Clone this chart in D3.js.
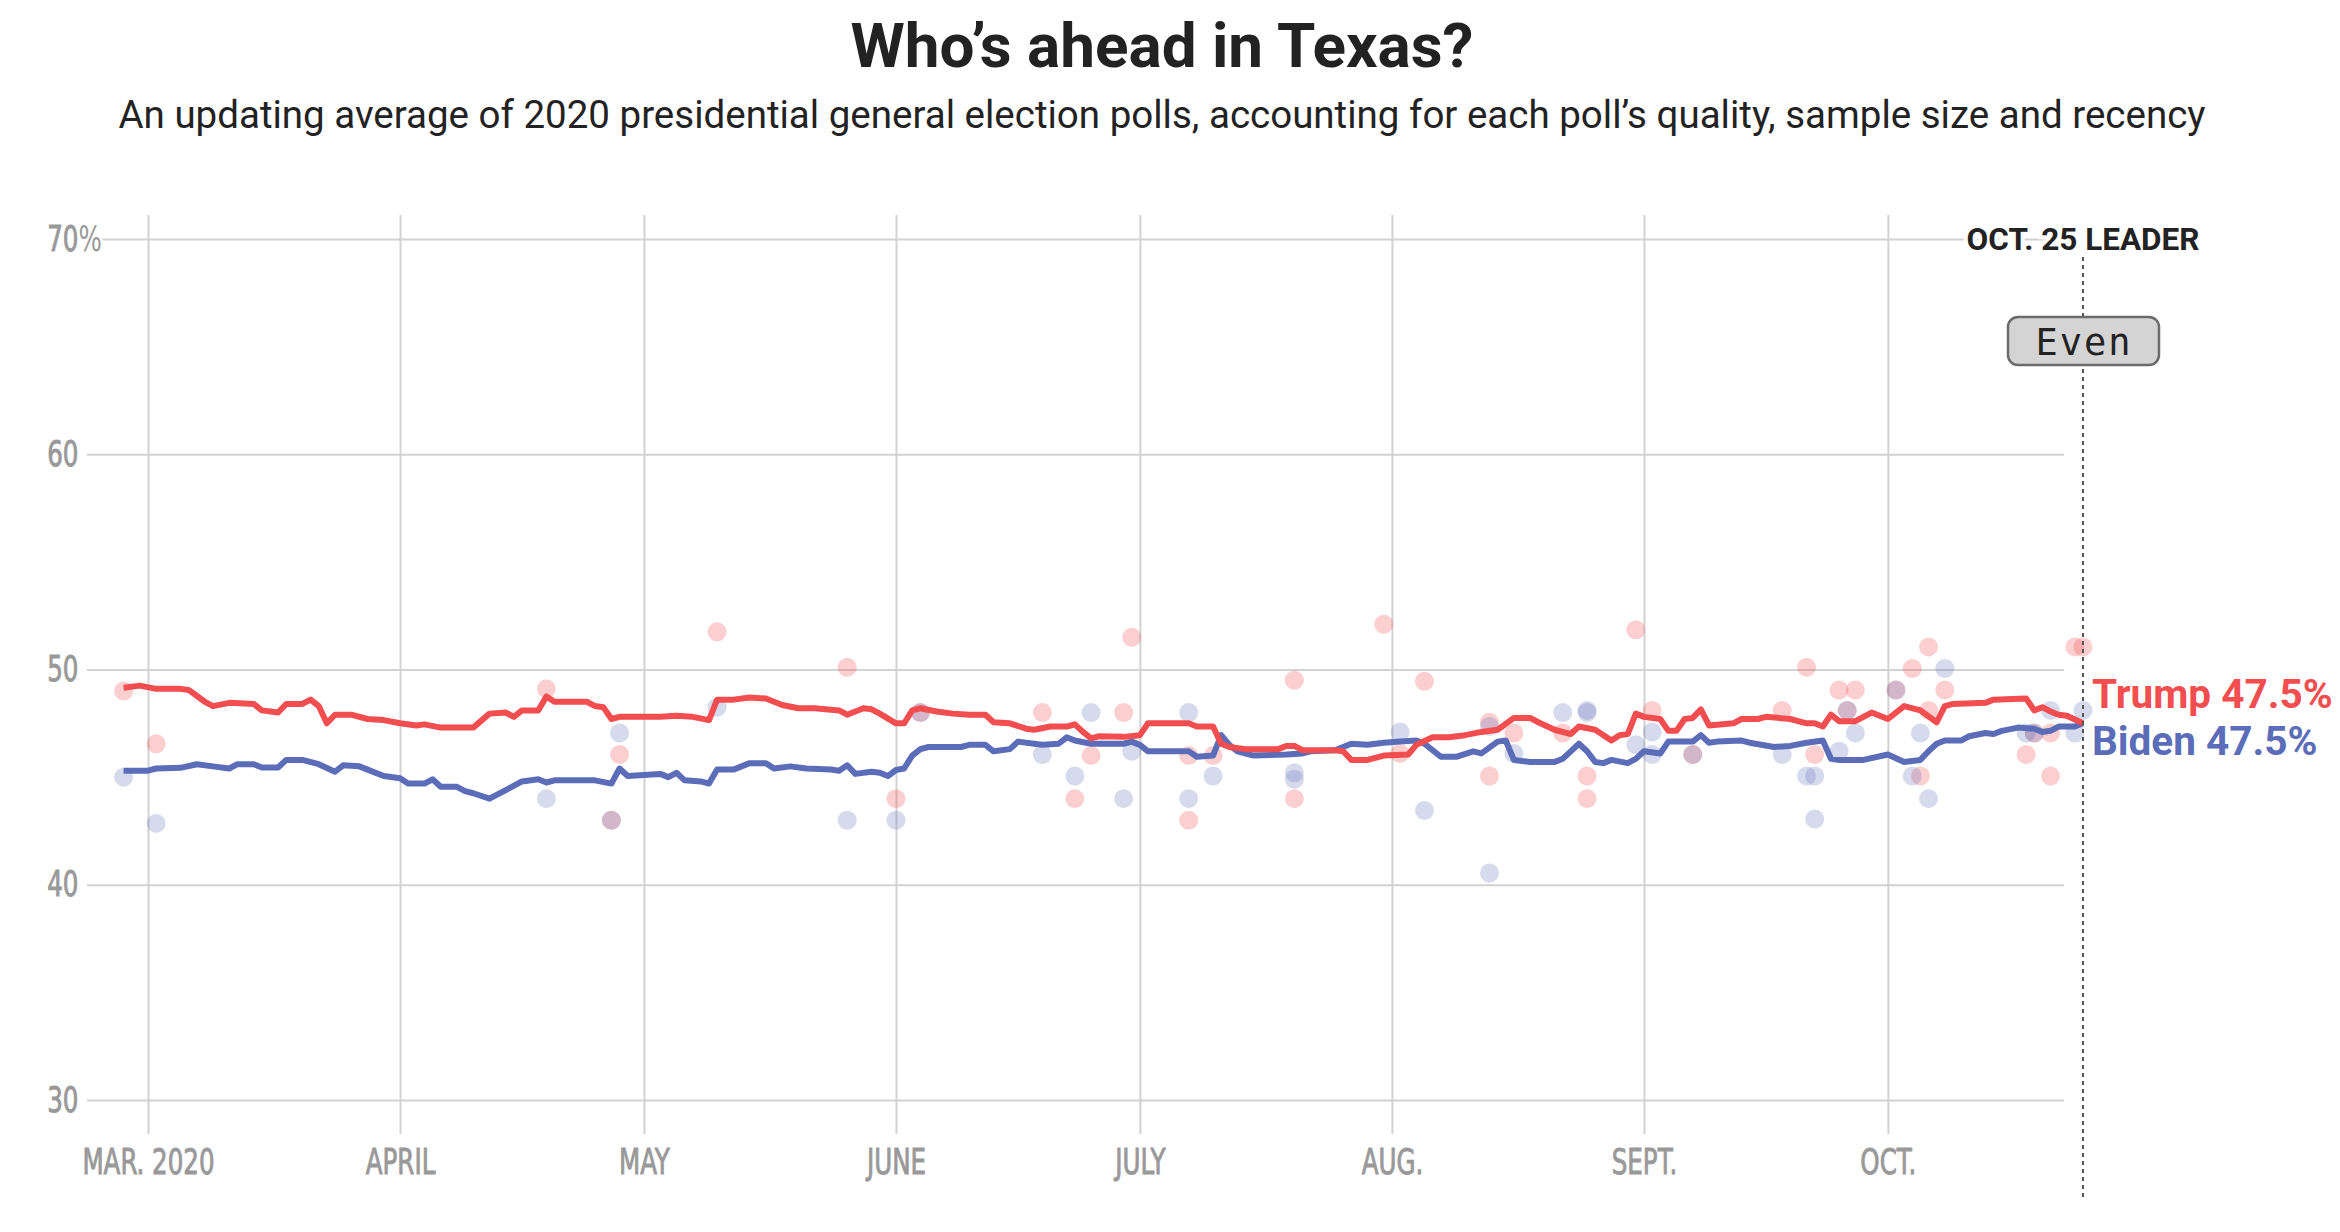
<!DOCTYPE html>
<html>
<head>
<meta charset="utf-8">
<script src="https://cdn.jsdelivr.net/npm/d3@7"></script>
<style>
  body { margin: 0; background: #fff; }
  .tick text { font-family: "Liberation Sans Narrow", "DejaVu Sans Condensed", sans-serif; fill: #999; stroke: #999; stroke-width: 0.9px; }
  .tick line { stroke: #d2d2d2; stroke-width: 2; }
</style>
</head>
<body>
<div id="chart"></div>
<script>
// polling averages
const trumpAvg = [
  ["2020-02-27",49.15],["2020-02-29",49.25],["2020-03-02",49.1],["2020-03-05",49.1],["2020-03-06",49.05],
  ["2020-03-08",48.5],["2020-03-09",48.3],["2020-03-11",48.45],["2020-03-14",48.4],["2020-03-15",48.1],
  ["2020-03-17",48.0],["2020-03-18",48.4],["2020-03-20",48.4],["2020-03-21",48.6],["2020-03-22",48.3],
  ["2020-03-23",47.5],["2020-03-24",47.9],["2020-03-26",47.9],["2020-03-28",47.7],["2020-03-30",47.65],
  ["2020-04-01",47.5],["2020-04-03",47.4],["2020-04-04",47.45],["2020-04-06",47.3],["2020-04-10",47.3],
  ["2020-04-12",47.95],["2020-04-14",48.0],["2020-04-15",47.8],["2020-04-16",48.1],["2020-04-18",48.1],
  ["2020-04-19",48.75],["2020-04-20",48.5],["2020-04-24",48.5],["2020-04-25",48.3],["2020-04-26",48.25],
  ["2020-04-27",47.7],["2020-04-28",47.8],["2020-05-03",47.8],["2020-05-05",47.85],["2020-05-07",47.8],
  ["2020-05-09",47.65],["2020-05-10",48.6],["2020-05-12",48.6],["2020-05-14",48.7],["2020-05-16",48.65],
  ["2020-05-18",48.35],["2020-05-20",48.2],["2020-05-22",48.2],["2020-05-25",48.1],["2020-05-26",47.9],
  ["2020-05-28",48.2],["2020-05-29",48.15],["2020-05-30",47.95],["2020-06-01",47.5],["2020-06-02",47.5],
  ["2020-06-03",48.1],["2020-06-04",48.2],["2020-06-06",48.05],["2020-06-08",47.95],["2020-06-10",47.9],
  ["2020-06-12",47.9],["2020-06-13",47.55],["2020-06-15",47.5],["2020-06-17",47.25],["2020-06-18",47.2],
  ["2020-06-20",47.35],["2020-06-22",47.35],["2020-06-23",47.45],["2020-06-24",47.1],["2020-06-25",46.8],
  ["2020-06-26",46.9],["2020-06-29",46.87],["2020-07-01",46.95],["2020-07-02",47.5],["2020-07-07",47.5],
  ["2020-07-08",47.35],["2020-07-10",47.35],["2020-07-11",46.55],["2020-07-12",46.4],["2020-07-14",46.3],
  ["2020-07-18",46.3],["2020-07-19",46.45],["2020-07-20",46.45],["2020-07-21",46.25],["2020-07-25",46.25],
  ["2020-07-26",46.2],["2020-07-27",45.8],["2020-07-29",45.8],["2020-07-31",46.0],["2020-08-03",46.05],
  ["2020-08-04",46.5],["2020-08-06",46.85],["2020-08-08",46.85],["2020-08-10",46.95],["2020-08-12",47.1],
  ["2020-08-14",47.2],["2020-08-16",47.75],["2020-08-18",47.75],["2020-08-19",47.55],["2020-08-21",47.2],
  ["2020-08-23",47.0],["2020-08-24",47.35],["2020-08-26",47.2],["2020-08-28",46.7],["2020-08-29",46.95],
  ["2020-08-30",47.0],["2020-08-31",47.95],["2020-09-01",47.8],["2020-09-03",47.7],["2020-09-04",47.15],
  ["2020-09-05",47.15],["2020-09-06",47.7],["2020-09-07",47.75],["2020-09-08",48.15],["2020-09-09",47.4],
  ["2020-09-12",47.5],["2020-09-13",47.7],["2020-09-15",47.7],["2020-09-16",47.8],["2020-09-19",47.7],
  ["2020-09-21",47.5],["2020-09-22",47.5],["2020-09-23",47.35],["2020-09-24",47.9],["2020-09-25",47.6],
  ["2020-09-27",47.6],["2020-09-29",48.0],["2020-10-01",47.7],["2020-10-03",48.3],["2020-10-05",48.1],
  ["2020-10-07",47.55],["2020-10-08",48.3],["2020-10-09",48.4],["2020-10-13",48.45],["2020-10-14",48.6],
  ["2020-10-18",48.65],["2020-10-19",48.1],["2020-10-20",48.25],["2020-10-21",48.05],["2020-10-22",47.9],
  ["2020-10-23",47.85],["2020-10-25",47.5]
];
const bidenAvg = [
  ["2020-02-27",45.3],["2020-03-01",45.3],["2020-03-02",45.4],["2020-03-05",45.43],["2020-03-07",45.6],
  ["2020-03-09",45.5],["2020-03-11",45.4],["2020-03-12",45.6],["2020-03-14",45.6],["2020-03-15",45.45],
  ["2020-03-17",45.45],["2020-03-18",45.8],["2020-03-20",45.8],["2020-03-22",45.6],["2020-03-24",45.25],
  ["2020-03-25",45.55],["2020-03-27",45.5],["2020-03-28",45.35],["2020-03-30",45.05],["2020-04-01",44.95],
  ["2020-04-02",44.7],["2020-04-04",44.7],["2020-04-05",44.9],["2020-04-06",44.55],["2020-04-08",44.55],
  ["2020-04-09",44.35],["2020-04-10",44.25],["2020-04-12",44.0],["2020-04-14",44.4],["2020-04-16",44.8],
  ["2020-04-18",44.9],["2020-04-19",44.75],["2020-04-20",44.85],["2020-04-25",44.85],["2020-04-27",44.7],
  ["2020-04-28",45.4],["2020-04-29",45.05],["2020-05-01",45.1],["2020-05-03",45.15],["2020-05-04",45.0],
  ["2020-05-05",45.2],["2020-05-06",44.85],["2020-05-08",44.8],["2020-05-09",44.7],["2020-05-10",45.35],
  ["2020-05-12",45.35],["2020-05-14",45.65],["2020-05-16",45.65],["2020-05-17",45.4],["2020-05-19",45.5],
  ["2020-05-21",45.4],["2020-05-24",45.35],["2020-05-25",45.3],["2020-05-26",45.55],["2020-05-27",45.15],
  ["2020-05-29",45.25],["2020-05-30",45.2],["2020-05-31",45.05],["2020-06-01",45.33],["2020-06-02",45.4],
  ["2020-06-03",46.0],["2020-06-04",46.3],["2020-06-05",46.4],["2020-06-09",46.4],["2020-06-10",46.5],
  ["2020-06-12",46.5],["2020-06-13",46.2],["2020-06-15",46.3],["2020-06-16",46.65],["2020-06-18",46.55],
  ["2020-06-19",46.5],["2020-06-21",46.55],["2020-06-22",46.85],["2020-06-23",46.7],["2020-06-25",46.55],
  ["2020-06-29",46.55],["2020-06-30",46.65],["2020-07-01",46.5],["2020-07-02",46.2],["2020-07-07",46.2],
  ["2020-07-08",45.95],["2020-07-10",46.0],["2020-07-11",46.95],["2020-07-12",46.5],["2020-07-13",46.2],
  ["2020-07-15",46.0],["2020-07-19",46.05],["2020-07-21",46.1],["2020-07-22",46.2],["2020-07-25",46.25],
  ["2020-07-27",46.55],["2020-07-29",46.5],["2020-07-31",46.6],["2020-08-02",46.65],["2020-08-04",46.7],
  ["2020-08-05",46.55],["2020-08-07",45.95],["2020-08-09",45.95],["2020-08-11",46.2],["2020-08-12",46.1],
  ["2020-08-14",46.65],["2020-08-15",46.7],["2020-08-16",45.8],["2020-08-18",45.7],["2020-08-21",45.7],
  ["2020-08-22",45.85],["2020-08-24",46.55],["2020-08-25",46.2],["2020-08-26",45.7],["2020-08-27",45.65],
  ["2020-08-28",45.8],["2020-08-30",45.65],["2020-08-31",45.85],["2020-09-01",46.2],["2020-09-03",46.1],
  ["2020-09-04",46.65],["2020-09-07",46.65],["2020-09-08",46.95],["2020-09-09",46.6],["2020-09-10",46.65],
  ["2020-09-13",46.7],["2020-09-14",46.6],["2020-09-17",46.4],["2020-09-19",46.45],["2020-09-21",46.6],
  ["2020-09-23",46.7],["2020-09-24",45.85],["2020-09-25",45.8],["2020-09-28",45.8],["2020-10-01",46.05],
  ["2020-10-03",45.7],["2020-10-05",45.8],["2020-10-06",46.2],["2020-10-07",46.55],["2020-10-08",46.7],
  ["2020-10-10",46.7],["2020-10-11",46.9],["2020-10-13",47.05],["2020-10-14",47.0],["2020-10-15",47.15],
  ["2020-10-17",47.3],["2020-10-19",47.25],["2020-10-20",47.1],["2020-10-21",47.15],["2020-10-22",47.35],
  ["2020-10-24",47.35],["2020-10-25",47.5]
];

// individual polls (dots)
const trumpPolls = [
  ["2020-02-27",49.0],["2020-03-02",46.55],["2020-04-19",49.1],["2020-04-27",43.0],["2020-04-28",46.05],
  ["2020-05-10",51.75],["2020-05-26",50.1],["2020-06-01",44.0],["2020-06-04",48.0],["2020-06-19",48.0],
  ["2020-06-23",44.0],["2020-06-25",46.0],["2020-06-29",48.0],["2020-06-30",51.5],["2020-07-07",46.0],
  ["2020-07-07",43.0],["2020-07-10",46.0],["2020-07-20",49.5],["2020-07-20",44.0],["2020-07-31",52.1],
  ["2020-08-02",46.1],["2020-08-05",49.45],["2020-08-13",47.55],["2020-08-13",45.05],["2020-08-16",47.05],
  ["2020-08-22",47.05],["2020-08-25",45.05],["2020-08-25",44.0],["2020-08-31",51.85],["2020-09-02",48.1],
  ["2020-09-07",46.05],["2020-09-18",48.1],["2020-09-21",50.1],["2020-09-22",46.05],["2020-09-25",49.05],
  ["2020-09-26",48.1],["2020-09-27",49.05],["2020-10-02",49.05],["2020-10-04",50.05],["2020-10-05",45.05],
  ["2020-10-06",51.05],["2020-10-06",48.1],["2020-10-08",49.05],["2020-10-18",46.05],["2020-10-19",47.05],
  ["2020-10-21",45.05],["2020-10-21",47.05],["2020-10-24",51.05],["2020-10-25",51.05]
];
const bidenPolls = [
  ["2020-02-27",45.0],["2020-03-02",42.85],["2020-04-19",44.0],["2020-04-27",43.0],["2020-04-28",47.05],
  ["2020-05-10",48.25],["2020-05-26",43.0],["2020-06-01",43.0],["2020-06-04",48.0],["2020-06-19",46.05],
  ["2020-06-23",45.05],["2020-06-25",48.0],["2020-06-29",44.0],["2020-06-30",46.2],["2020-07-07",48.0],
  ["2020-07-07",44.0],["2020-07-10",45.05],["2020-07-20",45.2],["2020-07-20",44.9],["2020-08-02",47.1],
  ["2020-08-05",43.45],["2020-08-13",47.35],["2020-08-13",40.55],["2020-08-16",46.1],["2020-08-22",48.0],
  ["2020-08-25",48.1],["2020-08-25",48.0],["2020-08-31",46.5],["2020-09-02",47.1],["2020-09-02",46.05],
  ["2020-09-07",46.05],["2020-09-18",46.05],["2020-09-21",45.05],["2020-09-22",45.05],["2020-09-22",43.05],
  ["2020-09-25",46.2],["2020-09-26",48.1],["2020-09-27",47.05],["2020-10-02",49.05],["2020-10-04",45.05],
  ["2020-10-05",47.05],["2020-10-06",44.0],["2020-10-08",50.05],["2020-10-18",47.05],["2020-10-19",47.05],
  ["2020-10-21",48.1],["2020-10-24",47.05],["2020-10-25",48.1]
];

const monthTicks = ["2020-03-01","2020-04-01","2020-05-01","2020-06-01","2020-07-01","2020-08-01","2020-09-01","2020-10-01"];
const monthLabels = ["MAR. 2020","APRIL","MAY","JUNE","JULY","AUG.","SEPT.","OCT."];
const yTicks = [30, 40, 50, 60, 70];
const leaderDate = "2020-10-25";
const leaderText = "Even";
const finalTrump = 47.5, finalBiden = 47.5;

const trumpColor = "#f24e50", bidenColor = "#5b6db8";
const W = 2340, H = 1232;
const parse = d3.timeParse("%Y-%m-%d");

const svg = d3.select("#chart").append("svg")
    .attr("width", W)
    .attr("height", H)
    .style("display", "block");

const x = d3.scaleTime()
    .domain([parse("2020-03-01"), parse(leaderDate)])
    .range([148, 2083]);
const y = d3.scaleLinear()
    .domain([30, 70])
    .range([1100, 239]);

const gridLeft = 87, gridRight = 2064, vTop = 215, vBottom = 1134;

// title + subtitle
svg.append("text")
    .attr("x", 1162).attr("y", 67)
    .attr("text-anchor", "middle")
    .style("font-family", "Roboto, sans-serif")
    .style("font-weight", 700)
    .style("font-size", "62px")
    .style("fill", "#222")
    .text("Who’s ahead in Texas?");
svg.append("text")
    .attr("x", 1162).attr("y", 128)
    .attr("text-anchor", "middle")
    .style("font-family", "Roboto, sans-serif")
    .style("font-size", "38.5px")
    .style("fill", "#222")
    .text("An updating average of 2020 presidential general election polls, accounting for each poll’s quality, sample size and recency");

// x axis with vertical gridlines
const xAxis = svg.append("g")
    .attr("transform", `translate(0,${vBottom})`)
    .call(d3.axisBottom(x)
        .tickValues(monthTicks.map(parse))
        .tickFormat((d, i) => monthLabels[i])
        .tickSize(-(vBottom - vTop))
        .tickPadding(15));
xAxis.select(".domain").remove();
xAxis.selectAll("text")
    .style("font-size", "35px")
    .attr("transform", "scale(0.78,1)");

// y axis with horizontal gridlines
const yAxis = svg.append("g")
    .attr("transform", `translate(${gridLeft},0)`)
    .call(d3.axisLeft(y)
        .tickValues(yTicks)
        .tickFormat(d => d)
        .tickSize(-(gridRight - gridLeft))
        .tickPadding(11));
yAxis.select(".domain").remove();
yAxis.selectAll("text")
    .style("font-size", "35px")
    .attr("transform", "scale(0.78,1)");
yAxis.selectAll(".tick")
    .filter(d => d === 70)
    .append("text")
    .attr("x", -11).attr("dy", "0.32em")
    .attr("text-anchor", "start")
    .attr("transform", "scale(0.78,1)")
    .style("font-size", "35px")
    .style("stroke", "#fff").style("stroke-width", 6).style("paint-order", "stroke")
    .text("%");

// poll dots
const dots = svg.append("g");
dots.selectAll(".tp").data(trumpPolls).join("circle")
    .attr("cx", d => x(parse(d[0])))
    .attr("cy", d => y(d[1]))
    .attr("r", 9.5)
    .attr("fill", trumpColor)
    .attr("fill-opacity", 0.27);
dots.selectAll(".bp").data(bidenPolls).join("circle")
    .attr("cx", d => x(parse(d[0])))
    .attr("cy", d => y(d[1]))
    .attr("r", 9.5)
    .attr("fill", bidenColor)
    .attr("fill-opacity", 0.25);

// average lines
const line = d3.line()
    .x(d => x(parse(d[0])))
    .y(d => y(d[1]));
svg.append("path").datum(bidenAvg)
    .attr("d", line)
    .attr("fill", "none")
    .attr("stroke", bidenColor)
    .attr("stroke-width", 6)
    .attr("stroke-linejoin", "round");
svg.append("path").datum(trumpAvg)
    .attr("d", line)
    .attr("fill", "none")
    .attr("stroke", trumpColor)
    .attr("stroke-width", 6)
    .attr("stroke-linejoin", "round");

// leader marker
const lx = x(parse(leaderDate));
svg.append("line")
    .attr("x1", lx).attr("x2", lx)
    .attr("y1", 257).attr("y2", 1199)
    .attr("stroke", "#555")
    .attr("stroke-width", 2)
    .attr("stroke-dasharray", "4,4");
svg.append("text")
    .attr("x", lx).attr("y", 250)
    .attr("text-anchor", "middle")
    .style("font-family", "Roboto, sans-serif")
    .style("font-weight", 700)
    .style("font-size", "31.5px")
    .style("fill", "#222")
    .style("stroke", "#fff").style("stroke-width", 8).style("paint-order", "stroke")
    .text("OCT. 25 LEADER");
svg.append("rect")
    .attr("x", lx - 75).attr("y", 317)
    .attr("width", 151).attr("height", 48)
    .attr("rx", 10)
    .attr("fill", "#d4d4d4")
    .attr("stroke", "#6b6b6b")
    .attr("stroke-width", 2.5);
svg.append("text")
    .attr("x", lx + 1).attr("y", 355)
    .attr("text-anchor", "middle")
    .style("font-family", "'DejaVu Sans Mono', monospace")
    .style("font-size", "37px")
    .style("letter-spacing", "2px")
    .style("fill", "#222")
    .text(leaderText);

// end labels
svg.append("text")
    .attr("x", lx + 9).attr("y", y(finalTrump) - 15)
    .style("font-family", "Roboto, sans-serif")
    .style("font-weight", 700)
    .style("font-size", "40.5px")
    .style("fill", trumpColor)
    .text(`Trump ${finalTrump}%`);
svg.append("text")
    .attr("x", lx + 9).attr("y", y(finalBiden) + 32)
    .style("font-family", "Roboto, sans-serif")
    .style("font-weight", 700)
    .style("font-size", "40.5px")
    .style("fill", bidenColor)
    .text(`Biden ${finalBiden}%`);
</script>
</body>
</html>
